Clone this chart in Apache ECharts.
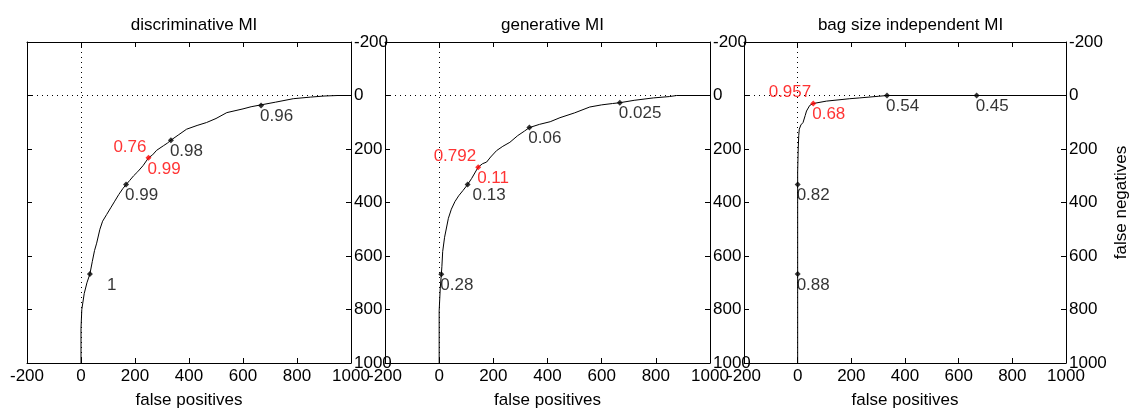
<!DOCTYPE html>
<html>
<head>
<meta http-equiv="Content-Type" content="text/html; charset=UTF-8">
<title>MI ROC</title>
<script src="https://cdn.jsdelivr.net/npm/echarts@6/dist/echarts.min.js"></script>
</head>
<body style="margin:0;background:#fff">
<div id="chart" style="width: 1131px; height: 414px;"></div>
<script type="text/javascript">
    // panel titles and axis ticks
    var titles = ['discriminative MI', 'generative MI', 'bag size independent MI'];
    var tickMin = -200, tickMax = 1000, tickStep = 200;

    // discriminative MI
    var discX = [0, 0, 3, 12, 22, 33, 42, 50, 58, 70, 80, 95, 110, 125, 140, 155, 167, 180, 195, 210, 230, 250, 265, 280, 305, 320, 333, 360, 391, 430, 465, 500, 540, 600, 630, 667, 720, 786, 850, 900, 950, 1000];
    var discY = [1000, 870, 800, 740, 700, 667, 620, 580, 552, 500, 470, 445, 420, 395, 370, 348, 333, 318, 300, 285, 262, 233, 222, 205, 188, 178, 167, 148, 126, 112, 101, 86, 64, 50, 42, 35, 25, 12, 6, 2, 0, 0];
    var discMarkX = [33, 167, 333, 667];
    var discMarkY = [667, 333, 167, 37];
    var discMarkText = ['1', '0.99', '0.98', '0.96'];
    var discRed = [250, 233];
    var discRedText = ['0.76', '0.99'];

    // generative MI
    var genX = [0, 0, 4, 8, 10, 13, 20, 34, 45, 58, 72, 88, 105, 120, 144, 160, 175, 190, 212, 235, 261, 290, 315, 333, 370, 410, 446, 500, 556, 600, 640, 667, 720, 791, 850, 877, 1000];
    var genY = [1000, 805, 720, 668, 640, 583, 530, 459, 425, 397, 375, 355, 333, 310, 268, 255, 249, 230, 206, 190, 175, 150, 133, 120, 108, 98, 83, 65, 43, 35, 30, 27, 18, 9, 4, 0, 0];
    var genMarkX = [8, 105, 333, 667];
    var genMarkY = [668, 333, 120, 27];
    var genMarkText = ['0.28', '0.13', '0.06', '0.025'];
    var genRed = [144, 268];
    var genRedText = ['0.792', '0.11'];

    // bag size independent MI
    var bagX = [0, 0, 0, 0, 2, 4, 6, 12, 20, 28, 33, 45, 58, 107, 194, 231, 300, 333, 667, 1000];
    var bagY = [1000, 667, 333, 287, 200, 150, 126, 110, 101, 75, 58, 37, 30, 21, 12, 9, 3, 0, 0, 0];
    var bagMarkX = [0, 0, 333, 667];
    var bagMarkY = [667, 333, 0, 0];
    var bagMarkText = ['0.88', '0.82', '0.54', '0.45'];
    var bagRed = [58, 30];
    var bagRedText = ['0.957', '0.68'];

    var font = 'Liberation Sans, Arial, sans-serif';
    var fs = 17;
    var panels = [
        { curveX: discX, curveY: discY, markX: discMarkX, markY: discMarkY, markText: discMarkText, red: discRed, redText: discRedText },
        { curveX: genX, curveY: genY, markX: genMarkX, markY: genMarkY, markText: genMarkText, red: genRed, redText: genRedText },
        { curveX: bagX, curveY: bagY, markX: bagMarkX, markY: bagMarkY, markText: bagMarkText, red: bagRed, redText: bagRedText }
    ];
    // grid boxes in pixels
    var boxes = [
        { left: 27, width: 324 },
        { left: 385, width: 325 },
        { left: 744, width: 323 }
    ];
    // a few labels sit further right of their marker
    var labelShift = { '0-0': [17, 11], '1-1': [5, 11] };

    var grids = [], xAxes = [], yAxes = [], series = [], titleList = [];

    function plain(v) { return String(v); }

    function axisBase(gridIndex, pos) {
        return {
            gridIndex: gridIndex,
            type: 'value',
            position: pos,
            min: tickMin,
            max: tickMax,
            interval: tickStep,
            axisLine: { show: true, onZero: false, lineStyle: { color: '#000', width: 1 } },
            axisTick: { show: true, inside: true, length: 5, lineStyle: { color: '#000' } },
            splitLine: { show: false },
            axisLabel: { show: false }
        };
    }

    panels.forEach(function (p, i) {
        var b = boxes[i];
        grids.push({ left: b.left, width: b.width, top: 42, height: 325 });
        titleList.push({
            text: titles[i],
            left: b.left + b.width / 2,
            top: 12,
            textAlign: 'center',
            textStyle: { fontFamily: font, fontSize: fs, fontWeight: 'normal', color: '#000' }
        });

        var xb = axisBase(i, 'bottom');
        xb.axisLabel = { show: true, margin: 5, color: '#000', fontFamily: font, fontSize: fs, showMinLabel: true, showMaxLabel: true, formatter: plain };
        xb.name = 'false positives';
        xb.nameLocation = 'middle';
        xb.nameGap = 29;
        xb.nameTextStyle = { fontFamily: font, fontSize: fs, color: '#000' };
        xAxes.push(xb);
        xAxes.push(axisBase(i, 'top'));

        var yr = axisBase(i, 'right');
        yr.inverse = true;
        yr.axisLabel = { show: true, margin: 3, color: '#000', fontFamily: font, fontSize: fs, showMinLabel: true, showMaxLabel: true, formatter: plain };
        if (i === 2) {
            yr.name = 'false negatives';
            yr.nameLocation = 'middle';
            yr.nameGap = 47;
            yr.nameRotate = 90;
            yr.nameTextStyle = { fontFamily: font, fontSize: fs, color: '#000' };
        }
        yAxes.push(yr);
        var yl = axisBase(i, 'left');
        yl.inverse = true;
        yAxes.push(yl);

        var xi = i * 2, yi = i * 2;

        // dotted zero lines
        series.push({
            type: 'line',
            xAxisIndex: xi, yAxisIndex: yi,
            data: [],
            silent: true,
            markLine: {
                silent: true,
                symbol: 'none',
                label: { show: false },
                lineStyle: { color: '#000', type: [1, 4], width: 1 },
                data: [{ xAxis: 0 }, { yAxis: 0 }]
            }
        });

        series.push({
            type: 'line',
            xAxisIndex: xi, yAxisIndex: yi,
            showSymbol: false,
            z: 3,
            lineStyle: { color: '#000', width: 1 },
            data: p.curveX.map(function (x, k) { return [x, p.curveY[k]]; })
        });

        series.push({
            type: 'scatter',
            xAxisIndex: xi, yAxisIndex: yi,
            symbol: 'diamond',
            symbolSize: 6,
            z: 4,
            itemStyle: { color: '#000' },
            data: p.markX.map(function (x, k) {
                return {
                    value: [x, p.markY[k]],
                    label: {
                        show: true,
                        formatter: p.markText[k],
                        position: 'inside',
                        align: 'left',
                        verticalAlign: 'middle',
                        offset: labelShift[i + '-' + k] || [-1, 11],
                        color: '#000',
                        textBorderWidth: 0,
                        fontFamily: font,
                        fontSize: fs
                    }
                };
            })
        });

        series.push({
            type: 'scatter',
            xAxisIndex: xi, yAxisIndex: yi,
            symbol: 'diamond',
            symbolSize: 6,
            z: 5,
            itemStyle: { color: '#ff0000' },
            data: [{
                value: p.red,
                label: {
                    show: true,
                    formatter: p.redText[1],
                    position: 'inside',
                    align: 'left',
                    verticalAlign: 'middle',
                    offset: [-1, 11],
                    color: '#ff0000',
                    textBorderWidth: 0,
                    fontFamily: font,
                    fontSize: fs
                }
            }, {
                value: p.red,
                symbolSize: 0,
                label: {
                    show: true,
                    formatter: p.redText[0],
                    position: 'inside',
                    align: 'right',
                    verticalAlign: 'middle',
                    offset: [-2, -11],
                    color: '#ff0000',
                    textBorderWidth: 0,
                    fontFamily: font,
                    fontSize: fs
                }
            }]
        });
    });

    var myChart = echarts.init(document.getElementById('chart'));
    myChart.setOption({
        backgroundColor: '#fff',
        animation: false,
        title: titleList,
        grid: grids,
        xAxis: xAxes,
        yAxis: yAxes,
        series: series
    });
</script>
</body>
</html>
